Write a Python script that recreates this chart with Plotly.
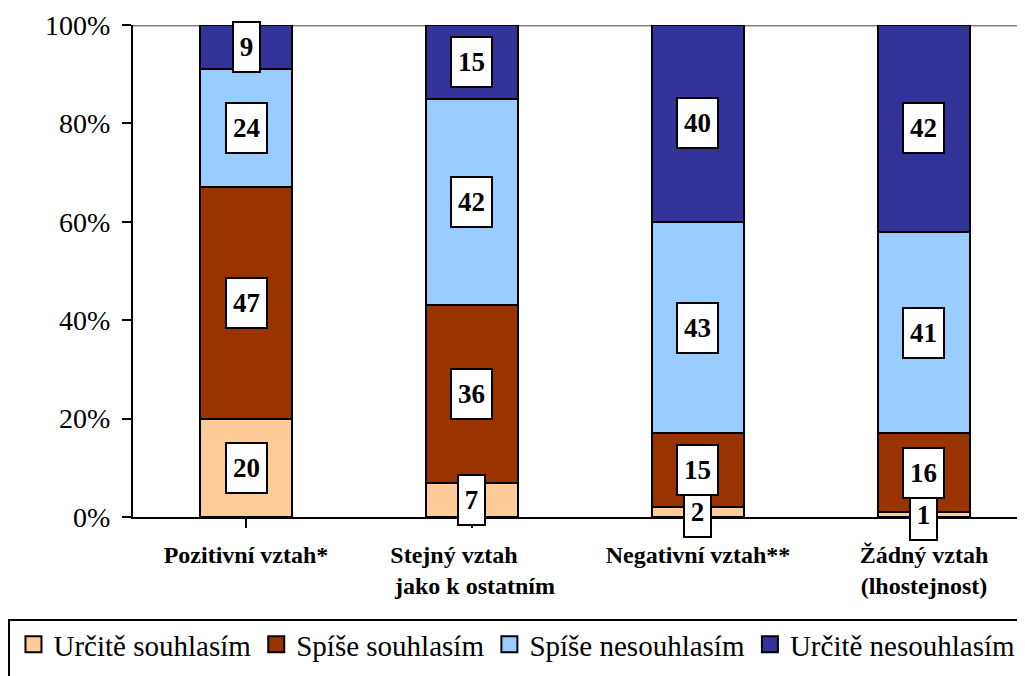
import plotly.graph_objects as go

NB = "\u00a0"
categories = ["Pozitivní vztah*", "Stejný vztah" + NB * 6 + "<br>" + NB + "jako k ostatním",
              "Negativní vztah**", "Žádný vztah<br>(lhostejnost)"]
series_names = ["Určitě souhlasím", "Spíše souhlasím", "Spíše nesouhlasím", "Určitě nesouhlasím"]
urcite_souhlasim = [20, 7, 2, 1]
spise_souhlasim = [47, 36, 15, 16]
spise_nesouhlasim = [24, 42, 43, 41]
urcite_nesouhlasim = [9, 15, 40, 42]
colors = ["#FFCC99", "#993300", "#99CCFF", "#333399"]
y_ticks = [0, 0.2, 0.4, 0.6, 0.8, 1.0]

series = [urcite_souhlasim, spise_souhlasim, spise_nesouhlasim, urcite_nesouhlasim]
FONT = "Liberation Serif"

fig = go.Figure()
for name, vals, col in zip(series_names, series, colors):
    fig.add_trace(go.Bar(
        name=name, x=list(range(len(categories))), y=[v / 100 for v in vals],
        marker=dict(color=col, line=dict(color="black", width=2)),
        width=0.405, showlegend=False, legendgroup=name,
    ))
# legend entries with larger square swatches
for name, col in zip(series_names, colors):
    fig.add_trace(go.Scatter(
        name=name, x=[None], y=[None], mode="markers", legendgroup=name,
        marker=dict(symbol="square", size=16, color=col, line=dict(color="black", width=2)),
        showlegend=True,
    ))

annotations = []
for ci in range(len(categories)):
    cum = 0
    for vals in series:
        v = vals[ci]
        mid = (cum + v / 2) / 100
        cum += v
        annotations.append(dict(
            x=ci, y=mid, xref="x", yref="y", text="<b>%d</b>" % v, showarrow=False,
            font=dict(family=FONT, size=27, color="black"),
            bgcolor="white", bordercolor="black", borderwidth=2,
            width=37 if v >= 10 else 23, height=46, borderpad=1,
            xanchor="center", yanchor="middle",
        ))

fig.update_layout(
    width=1025, height=676,
    margin=dict(l=125, r=8, t=17, b=167, autoexpand=False),
    paper_bgcolor="white", plot_bgcolor="white",
    barmode="stack",
    font=dict(family=FONT, color="black", size=26),
    showlegend=True,
    legend=dict(
        orientation="h", x=-0.134, y=-0.207, xanchor="left", yanchor="top",
        borderwidth=0, bgcolor="rgba(0,0,0,0)",
        font=dict(family=FONT, size=29, color="black"),
        traceorder="normal", itemwidth=30, itemsizing="trace",
    ),
    annotations=annotations,
    shapes=[
        dict(type="line", xref="paper", yref="y", x0=0, x1=1, y0=1, y1=1,
             line=dict(color="#808080", width=3), layer="below"),
        dict(type="rect", xref="paper", yref="paper", x0=-0.139, x1=1.05, y0=-0.2093, y1=-0.40,
             line=dict(color="black", width=2), fillcolor="rgba(0,0,0,0)", layer="above"),
    ],
)
fig.update_xaxes(
    range=[-0.5, 3.447], tickmode="array", tickvals=list(range(len(categories))),
    ticktext=["<b>%s</b>" % c for c in categories],
    tickfont=dict(family=FONT, size=24, color="black"),
    tickson="boundaries", ticks="outside", ticklen=9, tickwidth=2, tickcolor="black",
    showline=True, linecolor="black", linewidth=2, showgrid=False, zeroline=False,
    ticklabelstandoff=6,
)
fig.update_yaxes(
    range=[0, 1], tickmode="array", tickvals=y_ticks, tickformat=".0%",
    tickfont=dict(family=FONT, size=28, color="black"),
    ticks="outside", ticklen=9, tickwidth=2, tickcolor="black",
    showline=True, linecolor="black", linewidth=2, showgrid=False, zeroline=False,
    ticklabelstandoff=6,
)
fig.write_html("out.html")
